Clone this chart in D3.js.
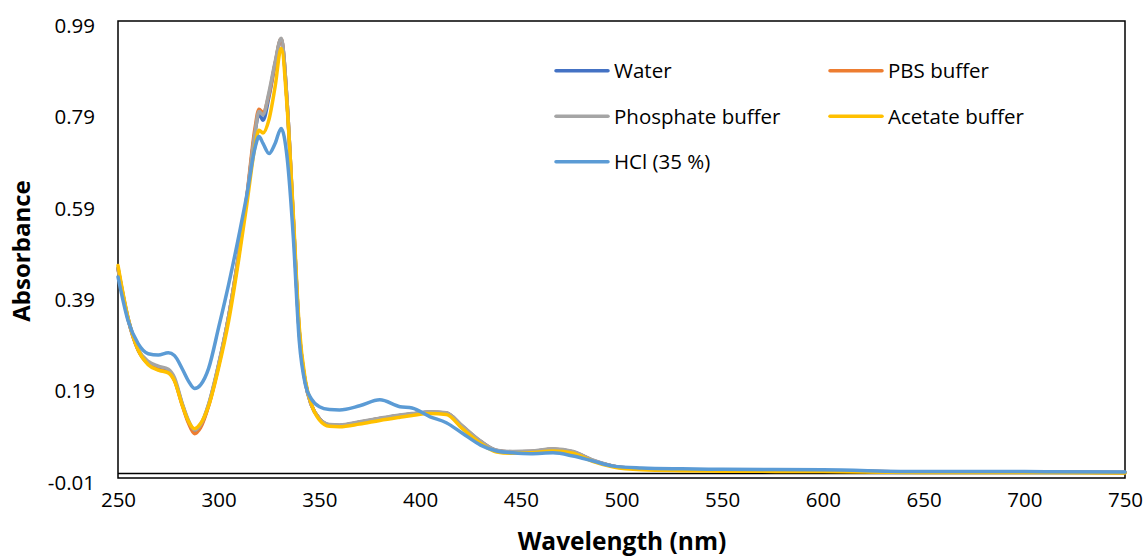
<!DOCTYPE html>
<html>
<head>
<meta charset="utf-8">
<script src="https://cdn.jsdelivr.net/npm/d3@7"></script>
<style>
  body { margin: 0; background: #fff; }
  text { font-family: "Open Sans", sans-serif; fill: #000; }
</style>
</head>
<body>
<div id="app"></div>
<script>
const wavelengths = [
  250, 255, 260, 265, 270, 275, 278, 282, 285, 288,
  291, 295, 300, 305, 310, 314, 318, 320, 322, 325,
  328, 331, 334, 337, 340, 343, 346, 350, 355, 360,
  370, 380, 390, 396, 405, 413, 421, 430, 438, 446,
  455, 466, 476, 486, 496, 510, 530, 550, 600, 650,
  700, 750
];

const water = [
  .448, .338, .27, .24, .228, .222, .205, .15, .113, .092,
  .104, .15, .238, .345, .48, .605, .745, .787, .773, .825,
  .895, .95, .81, .56, .31, .20, .15, .12, .106, .105,
  .112, .12, .127, .13, .134, .132, .103, .07, .05, .047,
  .048, .053, .047, .028, .016, .01, .008, .007, .006, .003,
  .003, .002
];

const pbs = [
  .448, .338, .27, .24, .227, .221, .204, .148, .11, .087,
  .1, .148, .237, .345, .482, .608, .755, .797, .79, .83,
  .897, .951, .81, .56, .31, .20, .15, .12, .106, .105,
  .112, .12, .127, .13, .134, .132, .103, .07, .05, .047,
  .048, .053, .047, .028, .016, .01, .008, .007, .006, .003,
  .003, .002
];

const phosphate = [
  .45, .34, .272, .245, .235, .228, .21, .152, .116, .095,
  .107, .152, .24, .345, .48, .605, .745, .792, .785, .835,
  .9, .952, .81, .56, .31, .20, .15, .12, .107, .106,
  .113, .121, .128, .131, .135, .133, .104, .071, .051, .048,
  .049, .054, .048, .029, .016, .01, .008, .007, .006, .003,
  .003, .002
];

const acetate = [
  .455, .34, .27, .238, .226, .22, .203, .148, .114, .098,
  .109, .148, .232, .335, .47, .59, .715, .751, .745, .775,
  .846, .93, .80, .57, .32, .205, .152, .117, .103, .102,
  .108, .116, .123, .127, .131, .129, .098, .066, .047, .044,
  .045, .049, .044, .026, .014, .008, .006, .005, .004, .002,
  .002, .001
];

const hcl = [
  .43, .334, .284, .262, .259, .264, .258, .228, .202, .186,
  .194, .23, .32, .415, .52, .61, .712, .737, .722, .70,
  .722, .755, .69, .52, .29, .195, .163, .146, .14, .139,
  .148, .161, .146, .143, .124, .111, .088, .062, .049, .045,
  .043, .045, .038, .027, .016, .012, .01, .009, .008, .004,
  .004, .003
];

const seriesNames = ["Water", "PBS buffer", "Phosphate buffer", "Acetate buffer", "HCl (35 %)"];
const seriesColors = ["#4472C4", "#ED7D31", "#A5A5A5", "#FFC000", "#5B9BD5"];
const xTicks = [250, 300, 350, 400, 450, 500, 550, 600, 650, 700, 750];
const yTicks = [-0.01, 0.19, 0.39, 0.59, 0.79, 0.99];

const chart = () => {
  const width = 1146;
  const height = 557;
  const left = 118, right = 1125, top = 21, bottom = 478;

  const svg = d3.create("svg").attr("width", width).attr("height", height);

  const x = d3.scaleLinear().domain([250, 750]).range([left, right]);
  const y = d3.scaleLinear().domain([-0.01, 0.99]).range([bottom, top]);

  const series = [water, pbs, phosphate, acetate, hcl].map((vals, i) => ({
    name: seriesNames[i],
    color: seriesColors[i],
    values: vals.map((v, j) => ({ w: wavelengths[j], a: v })),
  }));

  // plot frame
  svg
    .append("rect")
    .attr("x", left)
    .attr("y", top)
    .attr("width", right - left)
    .attr("height", bottom - top)
    .attr("fill", "none")
    .attr("stroke", "#000")
    .attr("stroke-width", 1.5);

  // horizontal axis at zero
  svg
    .append("line")
    .attr("x1", left)
    .attr("x2", right)
    .attr("y1", y(0))
    .attr("y2", y(0))
    .attr("stroke", "#000")
    .attr("stroke-width", 1.5);

  const line = d3
    .line()
    .x((d) => x(d.w))
    .y((d) => y(d.a))
    .curve(d3.curveMonotoneX);

  svg
    .append("g")
    .selectAll("path")
    .data(series)
    .join("path")
    .attr("d", (d) => line(d.values))
    .attr("fill", "none")
    .attr("stroke", (d) => d.color)
    .attr("stroke-width", 3.5)
    .attr("stroke-linejoin", "round")
    .attr("stroke-linecap", "round");

  // axes (labels only, no tick marks)
  const fmt = (d) => d3.format(".2f")(d).replace("−", "-");

  const yAxis = svg
    .append("g")
    .attr("transform", `translate(${left},0)`)
    .call(d3.axisLeft(y).tickValues(yTicks).tickFormat(fmt).tickSize(0).tickPadding(23));
  yAxis.select(".domain").remove();
  yAxis.selectAll("text")
    .style("font-size", "20.5px")
    .style("font-family", "'Open Sans', sans-serif")
    .attr("dy", "0.55em");

  const xAxis = svg
    .append("g")
    .attr("transform", `translate(0,${bottom})`)
    .call(d3.axisBottom(x).tickValues(xTicks).tickFormat(d3.format("d")).tickSize(0).tickPadding(14));
  xAxis.select(".domain").remove();
  xAxis.selectAll("text")
    .style("font-size", "20.5px")
    .style("font-family", "'Open Sans', sans-serif");

  // axis titles
  svg
    .append("text")
    .text("Wavelength (nm)")
    .attr("x", 622)
    .attr("y", 550)
    .attr("text-anchor", "middle")
    .style("font-size", "24.5px")
    .style("font-weight", "bold");

  svg
    .append("text")
    .text("Absorbance")
    .attr("transform", "translate(30,251) rotate(-90)")
    .attr("text-anchor", "middle")
    .style("font-size", "24px")
    .style("font-weight", "bold");

  // legend
  const legend = svg
    .append("g")
    .selectAll("g")
    .data(series)
    .join("g")
    .attr("transform", (d, i) => `translate(${i % 2 === 0 ? 556 : 830},${70.7 + Math.floor(i / 2) * 45.5})`);

  legend
    .append("line")
    .attr("x1", 0)
    .attr("x2", 52)
    .attr("stroke", (d) => d.color)
    .attr("stroke-width", 3.5)
    .attr("stroke-linecap", "round");

  legend
    .append("text")
    .text((d) => d.name)
    .attr("x", 58)
    .attr("dy", "0.36em")
    .style("font-size", "20.5px");

  return svg.node();
};

d3.select("#app").append(chart);
</script>
</body>
</html>
